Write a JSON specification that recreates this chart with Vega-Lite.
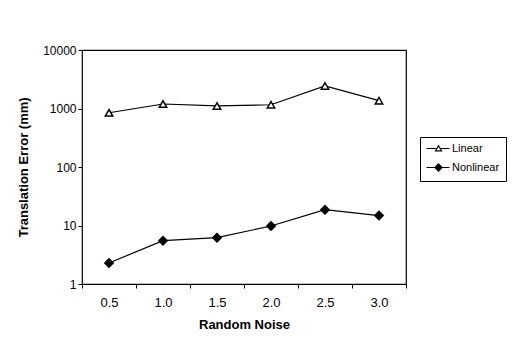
{
  "$schema": "https://vega.github.io/schema/vega-lite/v6.json",
  "autosize": {"type": "none"},
  "width": 324,
  "height": 234,
  "padding": {"left": 82, "top": 50, "right": 113, "bottom": 68},
  "background": "white",
  "config": {
    "font": "Liberation Sans",
    "view": {"stroke": "black", "strokeWidth": 1.2},
    "axis": {"grid": false, "domain": false, "tickColor": "black", "labelColor": "black", "titleColor": "black", "labelFont": "Liberation Sans", "titleFont": "Liberation Sans"},
    "legend": {"labelFont": "Liberation Sans"}
  },
  "data": {
    "values": [
      {"noise": "0.5", "series": "Linear", "error": 847},
      {"noise": "1.0", "series": "Linear", "error": 1194},
      {"noise": "1.5", "series": "Linear", "error": 1105},
      {"noise": "2.0", "series": "Linear", "error": 1160},
      {"noise": "2.5", "series": "Linear", "error": 2430},
      {"noise": "3.0", "series": "Linear", "error": 1360},
      {"noise": "0.5", "series": "Nonlinear", "error": 2.29},
      {"noise": "1.0", "series": "Nonlinear", "error": 5.5},
      {"noise": "1.5", "series": "Nonlinear", "error": 6.2},
      {"noise": "2.0", "series": "Nonlinear", "error": 9.8},
      {"noise": "2.5", "series": "Nonlinear", "error": 18.6},
      {"noise": "3.0", "series": "Nonlinear", "error": 14.8}
    ]
  },
  "encoding": {
    "x": {
      "field": "noise", "type": "ordinal", "sort": null,
      "scale": {"type": "band", "paddingInner": 0, "paddingOuter": 0},
      "axis": {"title": "Random Noise", "labelAngle": 0, "tickBand": "extent", "tickSize": 4, "labelFontSize": 13, "labelPadding": 8, "titleFontSize": 13, "titleFontWeight": "bold", "titlePadding": 9}
    },
    "y": {
      "field": "error", "type": "quantitative",
      "scale": {"type": "log", "domain": [1, 10000], "nice": false},
      "axis": {"title": "Translation Error (mm)", "values": [1, 10, 100, 1000, 10000], "format": "d", "tickSize": 4, "labelFontSize": 12, "titleFontSize": 13, "titleFontWeight": "bold", "titlePadding": 12}
    }
  },
  "layer": [
    {
      "mark": {"type": "line", "color": "black", "strokeWidth": 1.2},
      "encoding": {"detail": {"field": "series"}}
    },
    {
      "mark": {"type": "point", "stroke": "black", "strokeWidth": 1.5, "opacity": 1},
      "encoding": {
        "shape": {
          "field": "series", "type": "nominal",
          "scale": {"domain": ["Linear", "Nonlinear"], "range": ["triangle-up", "diamond"]},
          "legend": null
        },
        "fill": {
          "field": "series", "type": "nominal",
          "scale": {"domain": ["Linear", "Nonlinear"], "range": ["white", "black"]},
          "legend": null
        },
        "size": {
          "field": "series", "type": "nominal",
          "scale": {"domain": ["Linear", "Nonlinear"], "range": [55, 70]},
          "legend": null
        }
      }
    },
    {
      "mark": {"type": "point", "fill": "black", "stroke": "black", "strokeWidth": 1.2, "color": "black", "opacity": 0},
      "encoding": {
        "shape": {
          "field": "series", "type": "nominal",
          "scale": {"domain": ["Linear", "Nonlinear"], "range": [
            "M-1.25,-0.15H1.3V0.15H-1.25ZM2.2,-0.15H4.5V0.15H2.2ZM1.75,-1L2.75,0.75L0.75,0.75ZM1.75,-0.4L1.2,0.45L2.3,0.45Z",
            "M-1.25,-0.15H4.5V0.15H-1.25ZM1.75,-1.1L2.85,0L1.75,1.1L0.65,0Z"
          ]},
          "legend": {
            "title": null, "orient": "none", "legendX": 338, "legendY": 87,
            "strokeColor": "black", "padding": 6, "symbolSize": 64, "labelOffset": 15,
            "symbolOpacity": 1, "symbolFillColor": "black", "symbolStrokeColor": "black", "symbolStrokeWidth": 1.2,
            "labelFontSize": 11, "labelColor": "black", "rowPadding": 6
          }
        }
      }
    }
  ],
  "resolve": {"scale": {"shape": "independent"}, "legend": {"shape": "independent"}}
}
